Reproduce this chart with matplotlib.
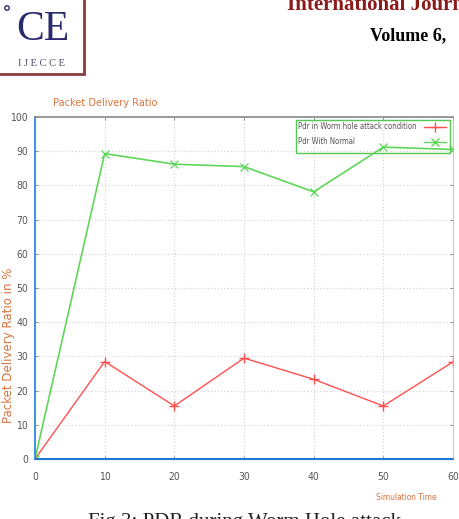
import matplotlib
matplotlib.use("Agg")
import matplotlib.pyplot as plt
from matplotlib.patches import Rectangle, Circle
from matplotlib.lines import Line2D

# simulation time vs packet delivery ratio (%)
sim_time = [0, 10, 20, 30, 40, 50, 60]
pdr_wormhole = [0, 28.5, 15.5, 29.5, 23.3, 15.5, 28.4]
pdr_normal = [0, 89.3, 86.2, 85.5, 78.1, 91.2, 90.5]
x_ticks = [0, 10, 20, 30, 40, 50, 60]
y_ticks = [0, 10, 20, 30, 40, 50, 60, 70, 80, 90, 100]
labels = ["Pdr in Worm hole attack condition", "Pdr With Normal"]

W, H = 459, 519
fig = plt.figure(figsize=(W / 100, H / 100), dpi=100)
fig.patch.set_facecolor("white")

def fx(px):
    return px / W

def fy(py):
    return 1 - py / H

narrow = dict(family="DejaVu Sans", stretch="condensed")
orange = "#d9743f"
red = "#ff5050"
green = "#5fd65a"

ax = fig.add_axes([fx(35), fy(459), fx(453) - fx(35), fy(117) - fy(459)])
ax.plot(sim_time, pdr_wormhole, color=red, lw=1.0, marker="+", ms=7, mew=1.0)
ax.plot(sim_time, pdr_normal, color=green, lw=1.2, marker="x", ms=6, mew=0.9)
ax.axhline(0, color="#1f78d1", lw=2.2, zorder=5)

ax.set_xlim(0, 60)
ax.set_ylim(0, 100)
ax.set_xticks(x_ticks)
ax.set_yticks(y_ticks)
ax.grid(True, color="#d6d6d6", ls=":", lw=0.9)
ax.tick_params(direction="in", length=2, width=0.6, colors="#777777",
               labelcolor="#555555", top=True, right=True)
for lab in ax.get_xticklabels() + ax.get_yticklabels():
    lab.set_family("DejaVu Sans")
    lab.set_stretch("condensed")
    lab.set_fontsize(7.5)
ax.tick_params(axis="x", pad=9)
ax.tick_params(axis="y", pad=5)

ax.spines["left"].set_color("#3d93e0")
ax.spines["left"].set_linewidth(1.4)
ax.spines["bottom"].set_color("#1f78d1")
ax.spines["top"].set_color("#8a8a8a")
ax.spines["top"].set_linewidth(1.2)
ax.spines["right"].set_color("#bbbbbb")
ax.spines["right"].set_linewidth(0.6)

# gnuplot-style key: text on the left, sample on the right
ax.add_patch(Rectangle((0.624, 0.895), 0.369, 0.096, transform=ax.transAxes,
                       fill=False, ec="#55c94f", lw=1.0, zorder=6))
key_rows = [(0.971, red, "+", 7), (0.927, green, "x", 6)]
for (yy, col, mk, ms), lab in zip(key_rows, labels):
    ax.text(0.630, yy, lab, transform=ax.transAxes, fontsize=5.6, color="#555555",
            va="center", ha="left", zorder=7, **narrow)
    ax.add_line(Line2D([0.931, 0.983], [yy, yy], transform=ax.transAxes,
                       color=col, lw=1.0, zorder=7))
    ax.add_line(Line2D([0.957], [yy], transform=ax.transAxes, color=col,
                       marker=mk, ms=ms, mew=1.0, zorder=7))

fig.text(fx(53), fy(106), "Packet Delivery Ratio", color=orange, fontsize=7.8,
         va="baseline", **narrow)
fig.text(fx(9), fy(345), "Packet Delivery Ratio in %", color=orange, fontsize=8.5,
         rotation=90, ha="center", va="center")
fig.text(fx(437), fy(500), "Simulation Time", color=orange, fontsize=6,
         ha="right", va="baseline", **narrow)

# page header pieces
fig.text(fx(287), fy(10), "International Journal", color="#8b1a1a", fontsize=15,
         family="Liberation Serif", weight="bold", va="baseline")
fig.text(fx(370), fy(40), "Volume 6,", color="black", fontsize=13,
         family="Liberation Serif", weight="bold", va="baseline")

logo = fig.add_axes([0, fy(78), fx(90), fy(0) - fy(78)])
logo.set_xlim(0, 90)
logo.set_ylim(78, 0)
logo.axis("off")
logo.add_patch(Rectangle((-3, -3), 87, 77, fill=False, ec="#8a3a3a", lw=2.0))
logo.add_patch(Circle((7, 8), 2.2, fill=False, ec="#2a2a6e", lw=1.0))
logo.text(43, 30, "CE", color="#2a2a6e", fontsize=30, family="Liberation Serif",
          ha="center", va="center")
logo.text(41, 63, "I J E C C E", color="#4a4a6a", fontsize=7.5,
          family="Liberation Serif", ha="center", va="center")

# figure caption (cut by the page edge)
fig.text(fx(88), fy(513), "Fig 3: PDR during Worm Hole attack", color="#222222",
         fontsize=15, family="Liberation Serif", va="top")

fig.savefig("out.png", dpi=100)
